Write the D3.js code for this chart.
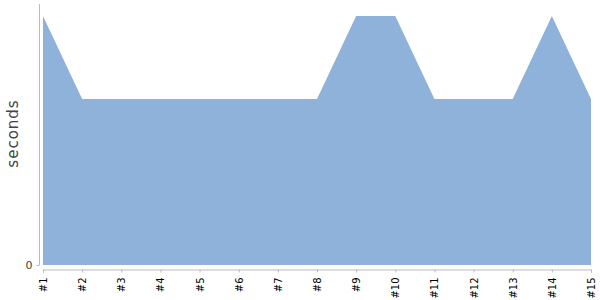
<!DOCTYPE html>
<html>
<head>
<meta charset="utf-8">
<script src="https://cdn.jsdelivr.net/npm/d3@7"></script>
<style>
  body { margin: 0; background: #fff; }
  svg { font-family: "DejaVu Sans", sans-serif; }
</style>
</head>
<body>
<svg width="600" height="300"></svg>
<script>
// data
var runs = ["#1","#2","#3","#4","#5","#6","#7","#8","#9","#10","#11","#12","#13","#14","#15"];
var seconds = [3, 2, 2, 2, 2, 2, 2, 2, 3, 3, 2, 2, 2, 3, 2];
var y_ticks = [0];

var svg = d3.select("svg");

var x = d3.scalePoint().domain(runs).range([43, 591]);
var y = d3.scaleLinear().domain([0, 3]).range([265, 16]);

// area
var area = d3.area()
  .x(function(d, i) { return x(runs[i]); })
  .y0(y(0))
  .y1(function(d) { return y(d); });

svg.append("path")
  .datum(seconds)
  .attr("d", area)
  .attr("fill", "#8fb2da");

// y axis
var gy = svg.append("g")
  .attr("transform", "translate(39.5,0)")
  .call(d3.axisLeft(y).tickValues(y_ticks).tickFormat(d3.format("d")).tickSize(3).tickPadding(4));
gy.select(".domain").remove();
gy.append("line")
  .attr("x1", 0).attr("x2", 0)
  .attr("y1", 4).attr("y2", 265)
  .attr("stroke", "#bbb");
gy.selectAll(".tick line").attr("stroke", "#bbb");
gy.selectAll(".tick text")
  .attr("fill", "#444")
  .style("font-size", "11px")
  .style("font-family", "DejaVu Sans, sans-serif");

// x axis
var gx = svg.append("g")
  .attr("transform", "translate(0,269.5)")
  .call(d3.axisBottom(x).tickSizeOuter(0).tickSize(3));
gx.select(".domain").attr("stroke", "#bbb");
gx.selectAll(".tick line").attr("stroke", "#bbb");
gx.selectAll(".tick text")
  .attr("fill", "#000")
  .style("font-size", "10px")
  .style("font-family", "DejaVu Sans, sans-serif")
  .attr("text-anchor", "end")
  .attr("transform", "rotate(-90)")
  .attr("x", -8)
  .attr("y", 0)
  .attr("dy", "0.35em");

// y label
svg.append("text")
  .attr("transform", "translate(18,133.5) rotate(-90)")
  .attr("text-anchor", "middle")
  .attr("fill", "#444")
  .style("font-size", "15px")
  .style("letter-spacing", "1px")
  .text("seconds");
</script>
</body>
</html>
